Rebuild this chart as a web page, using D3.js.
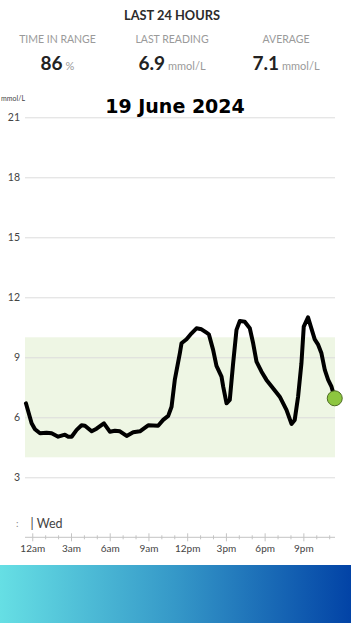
<!DOCTYPE html>
<html>
<head>
<meta charset="utf-8">
<script src="https://cdn.jsdelivr.net/npm/d3@7"></script>
<style>
  html, body { margin: 0; padding: 0; background: #fff; }
  svg { display: block; }
</style>
</head>
<body>
<div id="chart"></div>
<script>
// hours since midnight (negative = previous evening) and glucose readings
var hours = [-0.49, -0.05, 0.21, 0.6, 1.11, 1.5, 2.01, 2.53, 2.79, 3.05, 3.44, 3.82, 4.08, 4.6, 4.98,
  5.55, 6.01, 6.4, 6.79, 7.31, 7.82, 8.34, 8.98, 9.75, 10.14, 10.53, 10.79, 11.04, 11.43, 11.56,
  11.95, 12.34, 12.72, 13.11, 13.5, 13.68, 14.01, 14.27, 14.66, 14.79, 15.05, 15.3, 15.56, 15.82,
  16.08, 16.46, 16.85, 17.11, 17.37, 17.76, 18.14, 18.65, 19.17, 19.69, 20.08, 20.33, 20.59,
  20.85, 21.03, 21.36, 21.62, 21.88, 22.13, 22.4, 22.66, 22.92, 23.18, 23.43]
var glucose = [6.7, 5.7, 5.4, 5.2, 5.23, 5.2, 5.03, 5.13, 5.03, 5.03, 5.37, 5.6, 5.58, 5.3, 5.43,
  5.7, 5.28, 5.33, 5.3, 5.07, 5.25, 5.3, 5.6, 5.58, 5.87, 6.07, 6.53, 7.87, 9.2, 9.7,
  9.9, 10.2, 10.45, 10.4, 10.23, 10.15, 9.37, 8.57, 8.03, 7.53, 6.7, 6.87, 8.7, 10.37,
  10.82, 10.78, 10.45, 9.7, 8.78, 8.28, 7.87, 7.45, 7.03, 6.37, 5.67, 5.87, 7.03,
  8.7, 10.53, 11.0, 10.45, 9.9, 9.65, 9.2, 8.37, 7.87, 7.53, 6.95]
var yTicks = [3, 6, 9, 12, 15, 18, 21]
var xTickHours = [0, 3, 6, 9, 12, 15, 18, 21]
var xTickLabels = ["12am", "3am", "6am", "9am", "12pm", "3pm", "6pm", "9pm"]
var targetRange = [4, 10]
var statLabels = ["TIME IN RANGE", "LAST READING", "AVERAGE"]
var statValues = ["86", "6.9", "7.1"]
var statUnits = ["%", "mmol/L", "mmol/L"]

var width = 351, height = 623
var svg = d3.select("#chart").append("svg")
  .attr("width", width)
  .attr("height", height)
  .style("font-family", "Lato, 'Open Sans', sans-serif")

var x = d3.scaleLinear().domain([-0.5, 23.45]).range([25.8, 335])
var y = d3.scaleLinear().domain([3, 21]).range([477.3, 117.3])

// header
svg.append("text")
  .attr("x", 172).attr("y", 20)
  .attr("text-anchor", "middle")
  .style("font-size", "12.8px").style("font-weight", 700).style("fill", "#2b2b2b")
  .text("LAST 24 HOURS")

var colX = [57.5, 172, 286]
statLabels.forEach(function(s, i) {
  svg.append("text")
    .attr("x", colX[i]).attr("y", 42.5)
    .attr("text-anchor", "middle")
    .style("font-size", "10.5px").style("fill", "#9a9a9a")
    .text(s)
  var t = svg.append("text")
    .attr("x", colX[i]).attr("y", 70)
    .attr("text-anchor", "middle")
  t.append("tspan").text(statValues[i])
    .style("font-size", "19px").style("font-weight", 700).style("fill", "#222")
  t.append("tspan").text(statUnits[i]).attr("dx", 3)
    .style("font-size", "11px").style("fill", "#9a9a9a")
})

// target band
svg.append("rect")
  .attr("x", 25).attr("width", 310)
  .attr("y", y(targetRange[1]))
  .attr("height", y(targetRange[0]) - y(targetRange[1]))
  .attr("fill", "#eef6e4")

// y gridlines + labels
var yAxis = svg.append("g")
  .attr("transform", "translate(25,0)")
  .call(d3.axisLeft(y).tickValues(yTicks).tickSize(-310).tickPadding(5))
yAxis.select(".domain").remove()
yAxis.selectAll("line").attr("stroke", "#dcdcdc")
yAxis.selectAll("text")
  .style("font-family", "Lato, sans-serif").style("font-size", "10.5px").style("fill", "#444")

svg.append("text")
  .attr("x", 25).attr("y", 101)
  .attr("text-anchor", "end")
  .style("font-size", "7px").style("fill", "#444")
  .text("mmol/L")

// title
svg.append("text")
  .attr("x", 175).attr("y", 113)
  .attr("text-anchor", "middle")
  .style("font-family", "'DejaVu Sans', sans-serif")
  .style("font-size", "19px").style("font-weight", 700).style("fill", "#000")
  .text("19 June 2024")

// x axis
var xAxis = svg.append("g")
  .attr("transform", "translate(0,537.3)")
  .call(d3.axisBottom(x).tickValues(d3.range(0, 24)).tickSize(0)
    .tickFormat(function(h) { var i = xTickHours.indexOf(h); return i < 0 ? "" : xTickLabels[i] }))
xAxis.select(".domain").attr("d", "M25,0H335").attr("stroke", "#c4c4c4")
xAxis.selectAll(".tick line")
  .attr("stroke", "#c4c4c4")
  .attr("y1", function(h) { return xTickHours.indexOf(h) < 0 ? -2 : -4 })
  .attr("y2", function(h) { return xTickHours.indexOf(h) < 0 ? 2 : 4 })
xAxis.selectAll("text")
  .attr("y", 15).attr("dy", 0)
  .style("font-family", "Lato, sans-serif").style("font-size", "10px").style("fill", "#444")

svg.append("text")
  .attr("x", 16).attr("y", 527)
  .style("font-size", "10px").style("fill", "#888")
  .text(":")
svg.append("text")
  .attr("x", 30.5).attr("y", 527.5)
  .style("font-size", "12.5px").style("fill", "#444")
  .text("| Wed")

// glucose line
var pts = hours.map(function(h, i) { return [h, glucose[i]] })
svg.append("path")
  .datum(pts)
  .attr("fill", "none")
  .attr("stroke", "#000")
  .attr("stroke-width", 4)
  .attr("stroke-linejoin", "round")
  .attr("stroke-linecap", "round")
  .attr("d", d3.line().x(function(d) { return x(d[0]) }).y(function(d) { return y(d[1]) }))

var last = pts[pts.length - 1]
svg.append("circle")
  .attr("cx", x(last[0])).attr("cy", y(last[1]))
  .attr("r", 7.5)
  .attr("fill", "#8dc63f")
  .attr("stroke", "#4d6b22")
  .attr("stroke-width", 1)

// bottom banner
var grad = svg.append("defs").append("linearGradient").attr("id", "band")
grad.append("stop").attr("offset", "0%").attr("stop-color", "#66dfe4")
grad.append("stop").attr("offset", "50%").attr("stop-color", "#3598c8")
grad.append("stop").attr("offset", "100%").attr("stop-color", "#0243a6")
svg.append("rect")
  .attr("x", 0).attr("y", 565).attr("width", width).attr("height", height - 565)
  .attr("fill", "url(#band)")
</script>
</body>
</html>
